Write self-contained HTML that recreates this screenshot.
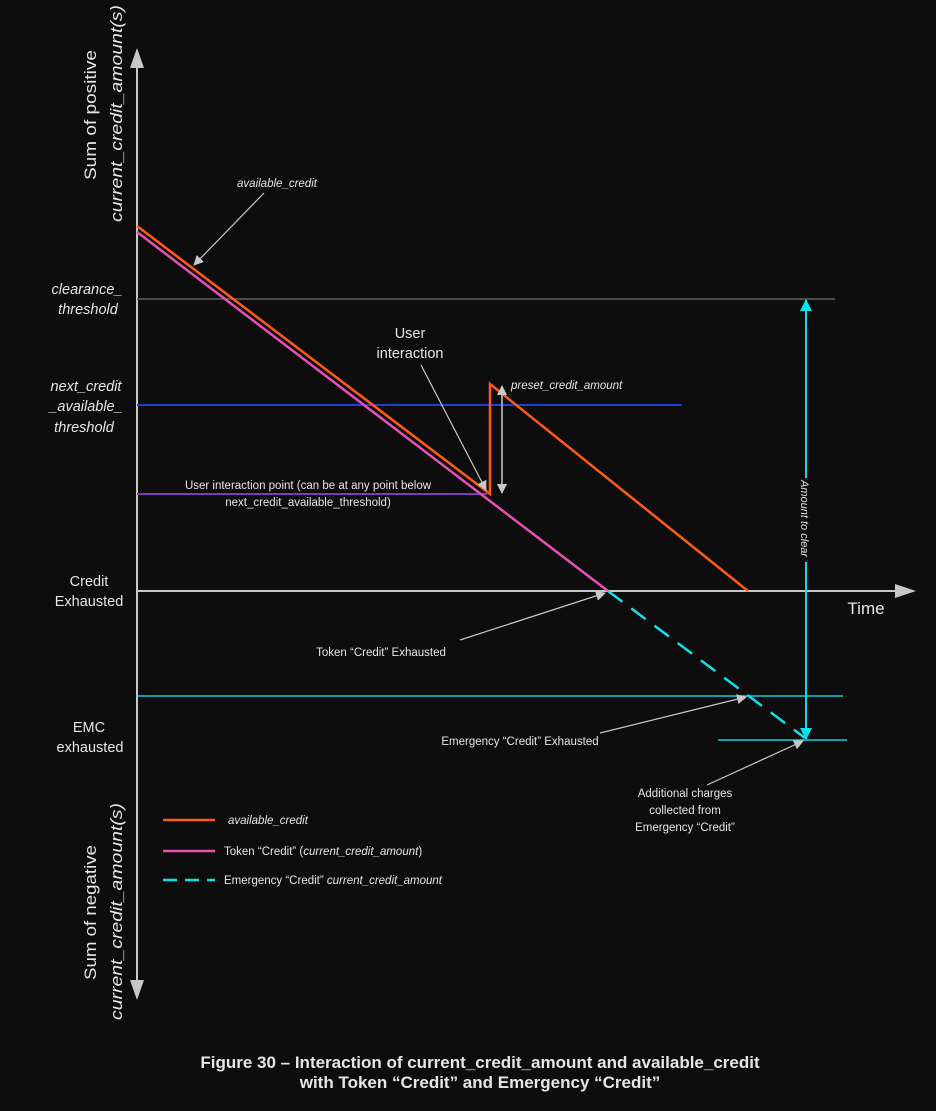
<!DOCTYPE html>
<html><head><style>
html,body{margin:0;padding:0;background:#0d0d0d;}
svg{display:block;}
text{font-family:"Liberation Sans",sans-serif;fill:#e6e6e6;}
</style></head><body>
<svg width="936" height="1111" viewBox="0 0 936 1111" xmlns="http://www.w3.org/2000/svg">
<rect width="936" height="1111" fill="#0d0d0d"/>
<defs>
<marker id="ag" markerWidth="10" markerHeight="10" refX="9" refY="5" orient="auto-start-reverse" markerUnits="userSpaceOnUse"><path d="M0,0 L10,5 L0,10 z" fill="#c8c8c8"/></marker>
<marker id="ac" markerWidth="12" markerHeight="12" refX="11" refY="6" orient="auto-start-reverse" markerUnits="userSpaceOnUse"><path d="M0,0 L12,6 L0,12 z" fill="#00e5f0"/></marker>
</defs>
<line x1="137" y1="66" x2="137" y2="982" stroke="#c8c8c8" stroke-width="2"/>
<path d="M130,68 L137,48 L144,68 z" fill="#c8c8c8"/>
<path d="M130,980 L137,1000 L144,980 z" fill="#c8c8c8"/>
<line x1="137" y1="591" x2="898" y2="591" stroke="#c8c8c8" stroke-width="2"/>
<path d="M895,584 L916,591 L895,598 z" fill="#c8c8c8"/>
<line x1="137" y1="299" x2="835" y2="299" stroke="#5c6450" stroke-width="1.5"/>
<line x1="137" y1="405" x2="682" y2="405" stroke="#1a40d6" stroke-width="2"/>
<line x1="137" y1="494" x2="487" y2="494" stroke="#7a3cb8" stroke-width="2"/>
<line x1="137" y1="696" x2="843" y2="696" stroke="#10d0dc" stroke-width="1.5"/>
<line x1="718" y1="740" x2="847" y2="740" stroke="#10d0dc" stroke-width="1.5"/>
<polyline points="137,232 608,591" fill="none" stroke="#e850b8" stroke-width="2.5"/>
<polyline points="137,226 490,494 490,384 748,591" fill="none" stroke="#ff5a14" stroke-width="2.5"/>
<line x1="608" y1="591" x2="805" y2="738" stroke="#10e0ea" stroke-width="2.5" stroke-dasharray="18,11"/>
<line x1="806" y1="300" x2="806" y2="739" stroke="#10d8e4" stroke-width="2" marker-start="url(#ac)" marker-end="url(#ac)"/>
<rect x="798" y="478" width="14" height="84" fill="#0d0d0d"/>
<text transform="translate(801,480) rotate(90)" font-size="11" font-style="italic">Amount to clear</text>
<line x1="502" y1="386" x2="502" y2="493" stroke="#c8c8c8" stroke-width="1.5" marker-start="url(#ag)" marker-end="url(#ag)"/>
<line x1="264" y1="193" x2="194" y2="265" stroke="#c8c8c8" stroke-width="1.2" marker-end="url(#ag)"/>
<line x1="421" y1="365" x2="486" y2="490" stroke="#c8c8c8" stroke-width="1.2" marker-end="url(#ag)"/>
<line x1="460" y1="640" x2="605" y2="593" stroke="#c8c8c8" stroke-width="1.2" marker-end="url(#ag)"/>
<line x1="600" y1="733" x2="746" y2="697" stroke="#c8c8c8" stroke-width="1.2" marker-end="url(#ag)"/>
<line x1="707" y1="785" x2="803" y2="741" stroke="#c8c8c8" stroke-width="1.2" marker-end="url(#ag)"/>
<text transform="translate(96,180) rotate(-90)" font-size="17" textLength="130" lengthAdjust="spacingAndGlyphs">Sum of positive</text>
<text transform="translate(122,222) rotate(-90)" font-size="17" font-style="italic" textLength="217" lengthAdjust="spacingAndGlyphs">current_credit_amount(s)</text>
<text transform="translate(96,980) rotate(-90)" font-size="17" textLength="135" lengthAdjust="spacingAndGlyphs">Sum of negative</text>
<text transform="translate(122,1020) rotate(-90)" font-size="17" font-style="italic" textLength="217" lengthAdjust="spacingAndGlyphs">current_credit_amount(s)</text>
<text x="277" y="187" font-size="11.5" font-style="italic" text-anchor="middle">available_credit</text>
<g font-size="14.5" font-style="italic" text-anchor="middle">
<text x="87" y="294">clearance_</text><text x="88" y="314">threshold</text>
<text x="86" y="391">next_credit</text><text x="86" y="411">_available_</text><text x="84" y="432">threshold</text>
</g>
<g font-size="14.5" text-anchor="middle">
<text x="89" y="586">Credit</text><text x="89" y="606">Exhausted</text>
<text x="89" y="732">EMC</text><text x="90" y="752">exhausted</text>
<text x="410" y="338">User</text><text x="410" y="358">interaction</text>
</g>
<text x="866" y="614" font-size="17" text-anchor="middle">Time</text>
<text x="511" y="389" font-size="11.5" font-style="italic">preset_credit_amount</text>
<g font-size="11.5" text-anchor="middle">
<text x="308" y="489">User interaction point (can be at any point below</text>
<text x="308" y="506">next_credit_available_threshold)</text>
<text x="381" y="656">Token “Credit” Exhausted</text>
<text x="520" y="745">Emergency “Credit” Exhausted</text>
<text x="685" y="797">Additional charges</text>
<text x="685" y="814">collected from</text>
<text x="685" y="831">Emergency “Credit”</text>
</g>
<line x1="163" y1="820" x2="215" y2="820" stroke="#ff5a14" stroke-width="2.5"/>
<line x1="163" y1="851" x2="215" y2="851" stroke="#e850b8" stroke-width="2.5"/>
<line x1="163" y1="880" x2="215" y2="880" stroke="#10e0ea" stroke-width="2.5" stroke-dasharray="14,8"/>
<text x="228" y="824" font-size="11.5" font-style="italic">available_credit</text>
<text x="224" y="855" font-size="11.5">Token “Credit” (<tspan font-style="italic">current_credit_amount</tspan>)</text>
<text x="224" y="884" font-size="11.5">Emergency “Credit” <tspan font-style="italic">current_credit_amount</tspan></text>
<g font-size="17" font-weight="bold" text-anchor="middle">
<text x="480" y="1068" fill="#fff">Figure 30 – Interaction of current_credit_amount and available_credit</text>
<text x="480" y="1088" fill="#fff">with Token “Credit” and Emergency “Credit”</text>
</g>
</svg>
</body></html>
